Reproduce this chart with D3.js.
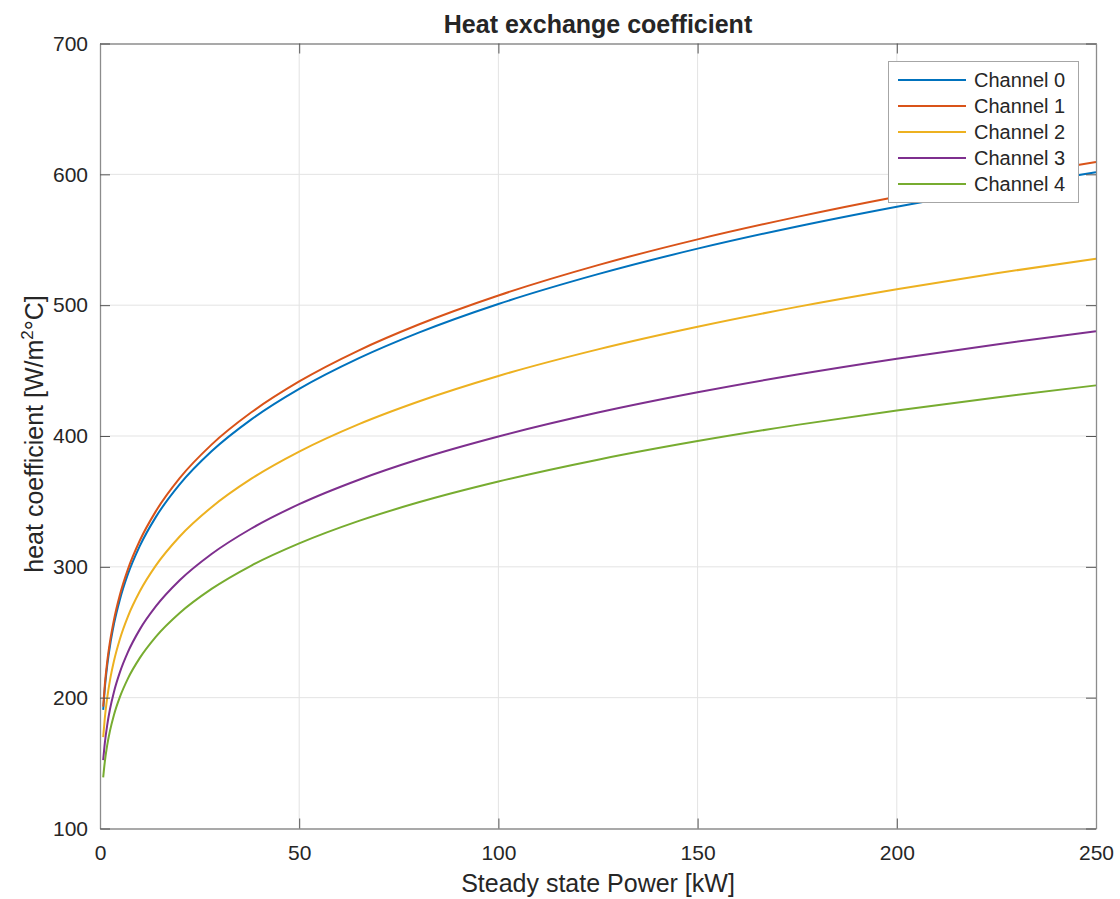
<!DOCTYPE html>
<html>
<head>
<meta charset="utf-8">
<script src="https://cdn.jsdelivr.net/npm/d3@7"></script>
<style>
  html, body { margin: 0; padding: 0; background: #fff; }
  svg text { font-family: "Liberation Sans", Arial, Helvetica, sans-serif; fill: #262626; }
</style>
</head>
<body>
<div id="chart"></div>
<script>
// Steady state power [kW] at which the curves were read
const power = [0.8, 1.2, 1.8, 2.5, 3.5, 5, 7, 10, 14, 20, 28, 38, 50, 65, 80, 100, 125, 150, 175, 200, 225, 250];

// Heat coefficient [W/m2°C] per channel
const channel0 = [190.7, 206.8, 224.3, 239.5, 256.2, 275.1, 294.3, 316.0, 338.0, 363.0, 388.3, 412.7, 436.0, 459.5, 479.0, 500.9, 523.7, 543.2, 560.2, 575.3, 589.1, 601.6];
const channel1 = [193.2, 209.5, 227.2, 242.6, 259.5, 278.7, 298.1, 320.1, 342.4, 367.8, 393.4, 418.1, 441.7, 465.5, 485.2, 507.4, 530.6, 550.3, 567.5, 582.9, 596.7, 609.5];
const channel2 = [169.8, 184.1, 199.6, 213.2, 228.0, 244.9, 262.0, 281.3, 300.9, 323.2, 345.6, 367.4, 388.1, 409.1, 426.4, 445.9, 466.2, 483.5, 498.7, 512.2, 524.4, 535.5];
const channel3 = [152.2, 165.0, 178.9, 191.1, 204.4, 219.5, 234.8, 252.2, 269.7, 289.7, 309.8, 329.3, 347.9, 366.6, 382.2, 399.6, 417.9, 433.4, 447.0, 459.1, 470.0, 480.0];
const channel4 = [139.1, 150.8, 163.5, 174.6, 186.8, 200.6, 214.6, 230.4, 246.5, 264.7, 283.1, 301.0, 317.9, 335.1, 349.3, 365.2, 381.9, 396.1, 408.5, 419.5, 429.5, 438.7];

const seriesNames = ['Channel 0', 'Channel 1', 'Channel 2', 'Channel 3', 'Channel 4'];
const seriesValues = [channel0, channel1, channel2, channel3, channel4];

const xTicks = [0, 50, 100, 150, 200, 250];
const yTicks = [100, 200, 300, 400, 500, 600, 700];

const W = 1120, H = 899;
const margin = { top: 43.5, right: 24, bottom: 70, left: 100 };
const width = W - margin.left - margin.right;
const height = H - margin.top - margin.bottom - 0.5;

const colors = ['#0072BD', '#D95319', '#EDB120', '#7E2F8E', '#77AC30'];

const svg = d3.select('#chart').append('svg')
    .attr('width', W)
    .attr('height', H);

const g = svg.append('g').attr('transform', `translate(${margin.left},${margin.top})`);

const x = d3.scaleLinear().domain([0, 250]).range([0, width]);
const y = d3.scaleLinear().domain([100, 700]).range([height, 0]);

// grid
g.append('g').selectAll('line')
    .data(xTicks.slice(1, -1))
    .enter().append('line')
    .attr('x1', d => x(d)).attr('x2', d => x(d))
    .attr('y1', 0).attr('y2', height)
    .attr('stroke', '#e3e3e3').attr('stroke-width', 1);
g.append('g').selectAll('line')
    .data(yTicks.slice(1, -1))
    .enter().append('line')
    .attr('y1', d => y(d)).attr('y2', d => y(d))
    .attr('x1', 0).attr('x2', width)
    .attr('stroke', '#e3e3e3').attr('stroke-width', 1);

// curves
const line = d3.line()
    .x((d, i) => x(power[i]))
    .y(d => y(d))
    .curve(d3.curveMonotoneX);

seriesValues.forEach((vals, k) => {
    g.append('path')
        .datum(vals)
        .attr('fill', 'none')
        .attr('stroke', colors[k])
        .attr('stroke-width', 2)
        .attr('d', line);
});

// axes, MATLAB style: ticks inward on all sides
const tickLen = 10;
const styleAxis = sel => {
    sel.select('.domain').attr('stroke', '#8c8c8c').attr('stroke-width', 1.3);
    sel.selectAll('.tick line').attr('stroke', '#555');
    sel.selectAll('.tick text').attr('font-size', 21).attr('fill', '#262626');
};

g.append('g')
    .attr('transform', `translate(0,${height})`)
    .call(d3.axisBottom(x).tickValues(xTicks).tickSizeInner(-tickLen).tickSizeOuter(0).tickPadding(17))
    .call(styleAxis);
g.append('g')
    .call(d3.axisTop(x).tickValues(xTicks).tickSizeInner(-tickLen).tickSizeOuter(0).tickFormat(''))
    .call(styleAxis);
g.append('g')
    .call(d3.axisLeft(y).tickValues(yTicks).tickSizeInner(-tickLen).tickSizeOuter(0).tickPadding(12))
    .call(styleAxis);
g.append('g')
    .attr('transform', `translate(${width},0)`)
    .call(d3.axisRight(y).tickValues(yTicks).tickSizeInner(-tickLen).tickSizeOuter(0).tickFormat(''))
    .call(styleAxis);

// titles
svg.append('text')
    .attr('x', margin.left + width / 2)
    .attr('y', 33)
    .attr('text-anchor', 'middle')
    .attr('font-size', 25)
    .attr('font-weight', 'bold')
    .attr('fill', '#000')
    .text('Heat exchange coefficient');

svg.append('text')
    .attr('x', margin.left + width / 2)
    .attr('y', 892)
    .attr('text-anchor', 'middle')
    .attr('font-size', 25)
    .text('Steady state Power [kW]');

const yl = svg.append('text')
    .attr('transform', 'translate(43,434) rotate(-90)')
    .attr('text-anchor', 'middle')
    .attr('font-size', 25);
yl.append('tspan').text('heat coefficient [W/m');
yl.append('tspan').attr('font-size', 17).attr('dy', -10).text('2');
yl.append('tspan').attr('dy', 10).text('°C]');

// legend
const legend = svg.append('g').attr('transform', 'translate(888.5,61.5)');
legend.append('rect')
    .attr('width', 190).attr('height', 141)
    .attr('fill', '#fff')
    .attr('stroke', '#a6a6a6').attr('stroke-width', 1);
const rowY = d3.scaleLinear().domain([0, 4]).range([18.5, 122.5]);
seriesNames.forEach((name, k) => {
    legend.append('line')
        .attr('x1', 9.5).attr('x2', 77.5)
        .attr('y1', rowY(k)).attr('y2', rowY(k))
        .attr('stroke', colors[k]).attr('stroke-width', 2);
    legend.append('text')
        .attr('x', 85.5).attr('y', rowY(k))
        .attr('dy', '0.35em')
        .attr('font-size', 20)
        .text(name);
});
</script>
</body>
</html>
